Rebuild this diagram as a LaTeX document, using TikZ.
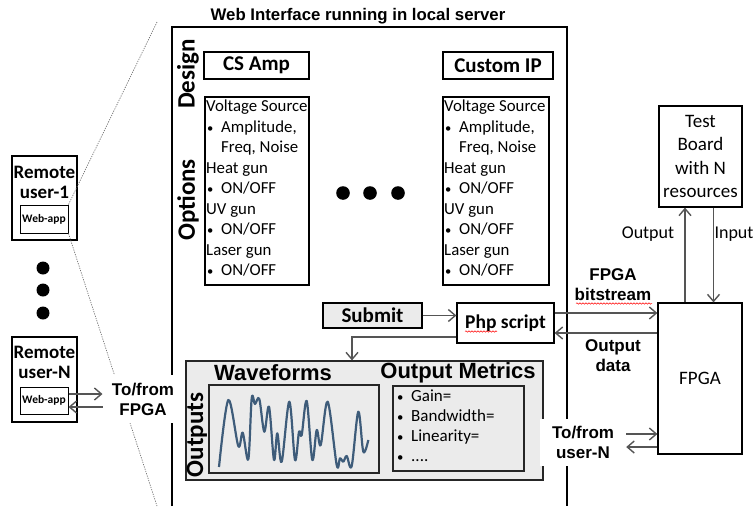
\documentclass[tikz,border=0pt]{standalone}
\usepackage{fontspec}
\setmainfont{Carlito}
\newfontfamily\arl{Liberation Sans}
\usetikzlibrary{arrows.meta,decorations.pathmorphing}
\definecolor{linegray}{HTML}{555555}
\definecolor{boxgray}{HTML}{EBEBEB}
\definecolor{wavecol}{HTML}{3E5C7A}
\newcommand{\fsz}[2]{\fontsize{#1}{#2}\selectfont}
\newcommand{\bul}{\makebox[15pt][l]{\hspace{1pt}\scalebox{0.75}{\textbullet}}}
\newcommand{\ind}{\hspace*{15pt}}
\newcommand{\mdots}{....}

\begin{document}
\begin{tikzpicture}[x=1pt,y=-1pt]
	\tikzstyle{every node}+=[inner sep=0pt]
	\tikzstyle{frame}=[draw=black, line width=1.2pt, rectangle]
	\tikzstyle{arr}=[draw=linegray, line width=1.4pt, -{Straight Barb[length=7pt,width=12pt]}]
	\tikzstyle{hint}=[draw=black!55, line width=0.7pt, dash pattern=on 1.2pt off 1.2pt]
	\tikzstyle{tline}=[anchor=west, text height=11pt, text depth=3.5pt]
	\tikzstyle{bold}=[font=\arl\bfseries\fsz{17}{20}, align=center]
	\tikzstyle{spell}=[draw=red, line width=0.5pt, decorate, decoration={snake, amplitude=0.7pt, segment length=3pt}]
	\useasboundingbox (0,0) rectangle (754,506);

	\draw [black, line width=1.2pt] (172,506) |- (567,27) -- (567,506);
	\node [font=\arl\bfseries\fsz{16.8}{20}] (title) at (358,16) {Web Interface running in local server};

	\node [rotate=90, font=\bfseries\fsz{25}{30}] (design) at (188,74) {Design};
	\node [rotate=90, font=\bfseries\fsz{25}{30}] (options) at (188,200) {Options};
	\node [frame, minimum width=105, minimum height=27, font=\bfseries\fsz{21}{25}] (csamp) at (256.5,65.5) {CS Amp};
	\node [frame, minimum width=110, minimum height=27, font=\bfseries\fsz{21}{25}] (customip) at (498,65.5) {Custom IP};
	\node [frame, minimum width=104, minimum height=188] (optA) at (257,191) {};
	\node [frame, minimum width=106, minimum height=188] (optB) at (496,191) {};
	\foreach \bx/\ox in {optA/206, optB/444}
		\foreach \ln [count=\i] in {{Voltage Source}, {\bul Amplitude,}, {\ind Freq, Noise}, {Heat gun}, {\bul ON/OFF}, {UV gun}, {\bul ON/OFF}, {Laser gun}, {\bul ON/OFF}}
			\node [tline, font=\fsz{16.8}{20.4}] (\bx-\i) at (\ox,87.5+20.5*\i) {\ln};
	\foreach \dx in {343,370,398}
		\fill [black] (\dx,193) circle (6.8);

	\node [frame, fill=boxgray, minimum width=99, minimum height=25, font=\bfseries\fsz{21}{25}] (submit) at (372.5,315.5) {Submit};
	\node [frame, minimum width=97, minimum height=40, font=\bfseries\fsz{19.5}{23}] (php) at (505.5,323) {Php script};
	\node [frame, minimum width=84, minimum height=151, font=\fsz{19}{23}] (fpga) at (700,378.5) {FPGA};
	\node [frame, minimum width=83, minimum height=101, align=center, font=\fsz{19}{23.5}] (board) at (700.5,156.5) {Test\\Board\\with N\\resources};

	\node [frame, draw=black!85, fill=boxgray, minimum width=357, minimum height=119] (outputs) at (364.5,420.5) {};
	\node [rotate=90, font=\bfseries\fsz{25}{30}] (outlbl) at (197,435) {Outputs};
	\node [font=\arl\bfseries\fsz{22}{26}] (wavelbl) at (273,373) {Waveforms};
	\node [font=\arl\bfseries\fsz{22}{26}] (metlbl) at (458,373) {Output Metrics};
	\node [frame, draw=black!85, minimum width=170, minimum height=88] (wavebox) at (294,429) {};
	\node [frame, draw=black!85, minimum width=131, minimum height=85] (metbox) at (458.5,428.5) {};
	\foreach \mt [count=\i] in {Gain=, Bandwidth=, Linearity=, \mdots}
		\node [tline, font=\fsz{17}{20}] (met-\i) at (396,378+20*\i) {\bul\mt};
	\draw [wavecol, line width=2.2pt, line join=round] plot [smooth, tension=0.55] coordinates {
		(219,467) (228.3,400) (238.3,446) (242.7,432.7) (248.3,459.3) (251.7,398.3) (255,404)
		(259.3,399) (264.3,431.7) (269,406.7) (274,460) (277.3,433.3) (281.7,461.7) (289.3,401.7)
		(295,460) (299,431.7) (301.7,435) (306.7,401) (312.3,460) (316.7,430) (320.7,445)
		(327.7,401.7) (336.7,465) (340,458.3) (343.3,461.7) (346.7,456) (351.7,466) (358.3,411.7)
		(363.3,451.7) (368.3,440)};

	\node [frame, minimum width=65, minimum height=84] (user1) at (44.5,198) {};
	\node [font=\bfseries\fsz{19}{20}, align=center] (user1lbl) at (44.5,182) {Remote\\user-1};
	\node [frame, line width=1pt, minimum width=48, minimum height=28, font=\bfseries\fsz{11.5}{13}] (app1) at (44,219) {Web-app};
	\foreach \dy in {268,290,313}
		\fill [black] (43,\dy) circle (6.5);
	\node [frame, minimum width=65, minimum height=85] (userN) at (44.5,379.5) {};
	\node [font=\bfseries\fsz{19}{20}, align=center] (userNlbl) at (44.5,362) {Remote\\user-N};
	\node [frame, line width=1pt, minimum width=48, minimum height=27, font=\bfseries\fsz{11.5}{13}] (appN) at (44,400.5) {Web-app};

	\coordinate (zoomtop) at (157,22);
	\coordinate (zoombot) at (157,506);
	\draw [hint] (app1.north east) -- (zoomtop);
	\draw [hint] (app1.south east) -- (zoombot);

	\draw [arr] (submit.east) -- (submit.east -| php.west);
	\coordinate (p1) at ([yshift=10pt]php.east);
	\coordinate (p2) at ([yshift=-10pt]php.east);
	\draw [arr] (p1) -- (p1 -| fpga.west);
	\draw [arr] (p2 -| fpga.west) -- (p2);
	\draw [arr] ([yshift=-14pt]php.west) -| ([xshift=-12.5pt]outputs.north);
	\draw [arr] ([xshift=-15pt]fpga.north) -- ([xshift=-15pt]fpga.north |- board.south);
	\draw [arr] ([xshift=13pt]board.south) -- ([xshift=13pt]board.south |- fpga.north);
	\node [font=\fsz{18}{21}] (outlabel) at (648,234) {Output};
	\node [font=\fsz{18}{21}] (inlabel) at (734,234) {Input};

	\node [bold] (bitlbl) at (613,285) {FPGA\\bitstream};
	\node [bold] (datalbl) at (613,355.5) {Output\\data};
	\draw [spell] (576,303.5) -- (652,303.5);
	\draw [spell] (465,331.5) -- (497,331.5);

	\node [bold, fill=white, inner xsep=1pt, inner ysep=8pt] (tofpga) at (143,399) {To/from\\FPGA};
	\node [bold, fill=white, inner xsep=12pt, inner ysep=7.5pt] (touser) at (583,442.5) {To/from\\user-N};
	\draw [arr] ([yshift=6.5pt]appN.east) -- ([xshift=34pt,yshift=6.5pt]appN.east);
	\draw [arr] ([xshift=34pt,yshift=-6.5pt]appN.east) -- ([yshift=-6.5pt]appN.east);
	\draw [arr] ([yshift=8.5pt]touser.east) -- ([yshift=8.5pt]touser.east -| fpga.west);
	\draw [arr] ([yshift=-4.5pt]touser.east -| fpga.west) -- ([yshift=-4.5pt]touser.east);
\end{tikzpicture}
\end{document}
